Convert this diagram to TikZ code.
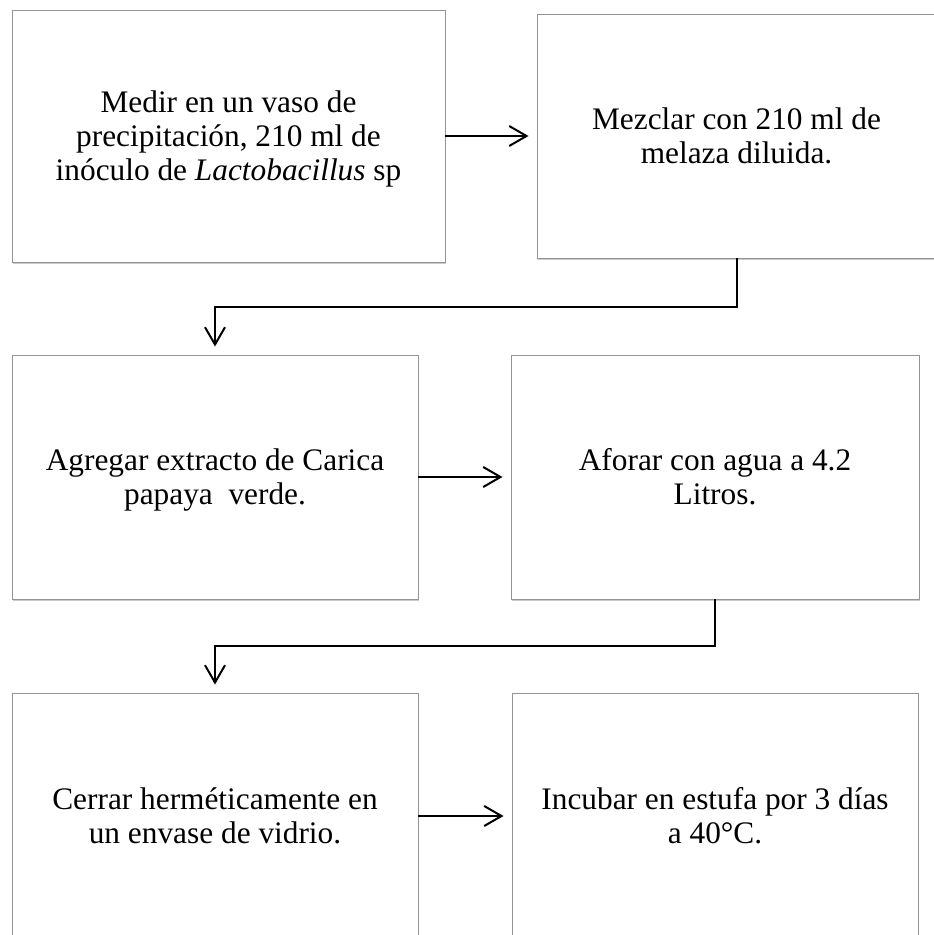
\documentclass[tikz,border=0pt]{standalone}
\usepackage{fontspec}
\setmainfont{Liberation Serif}
\usetikzlibrary{arrows.meta,shadows}
\newcommand\topstrut{\rule{0pt}{0.891em}}
\newcommand\botstrut{\rule[-0.216em]{0pt}{0pt}}
\begin{document}
\begin{tikzpicture}[x=0.75pt,y=-0.75pt,
  box/.style={draw=black!42, line width=0.7pt, fill=white, align=center, inner sep=0pt,
    font=\fontsize{23.5pt}{25.3pt}\selectfont,
    drop shadow={shadow xshift=0.9pt, shadow yshift=-1.5pt, opacity=0.35, fill=black!60}},
  conn/.style={line width=1.5pt, -{Straight Barb[length=13pt,width=15pt]}, shorten >=6pt}]
\useasboundingbox (0,0) rectangle (933,935);
\node[box, minimum width={433*0.75pt}, minimum height={252*0.75pt}] (b1) at (228.5,136)
  {\topstrut Medir en un vaso de\\precipitación, 210 ml de\\inóculo de \textit{Lactobacillus} sp\botstrut};
\node[box, minimum width={399*0.75pt}, minimum height={244*0.75pt}] (b2) at (736.5,136)
  {\topstrut Mezclar con 210 ml de\\melaza diluida.\botstrut};
\node[box, minimum width={406*0.75pt}, minimum height={244*0.75pt}] (b3) at (215,477)
  {\topstrut Agregar extracto de Carica\\papaya\ \ verde.\botstrut};
\node[box, minimum width={408*0.75pt}, minimum height={244*0.75pt}] (b4) at (715,477)
  {\topstrut Aforar con agua a 4.2\\Litros.\botstrut};
\node[box, minimum width={406*0.75pt}, minimum height={246*0.75pt}] (b5) at (215,816)
  {\topstrut Cerrar herméticamente en\\un envase de vidrio.\botstrut};
\node[box, minimum width={406*0.75pt}, minimum height={246*0.75pt}] (b6) at (715,816)
  {\topstrut Incubar en estufa por 3 días\\a 40°C.\botstrut};
\draw[conn] (b1.east) -- (b2.west);
\draw[conn] (b2.south) -- ++(0,49) -| (b3.north);
\draw[conn] (b3.east) -- (b4.west);
\draw[conn] (b4.south) -- ++(0,47) -| (b5.north);
\draw[conn] (b5.east) -- (b6.west);
\end{tikzpicture}
\end{document}
